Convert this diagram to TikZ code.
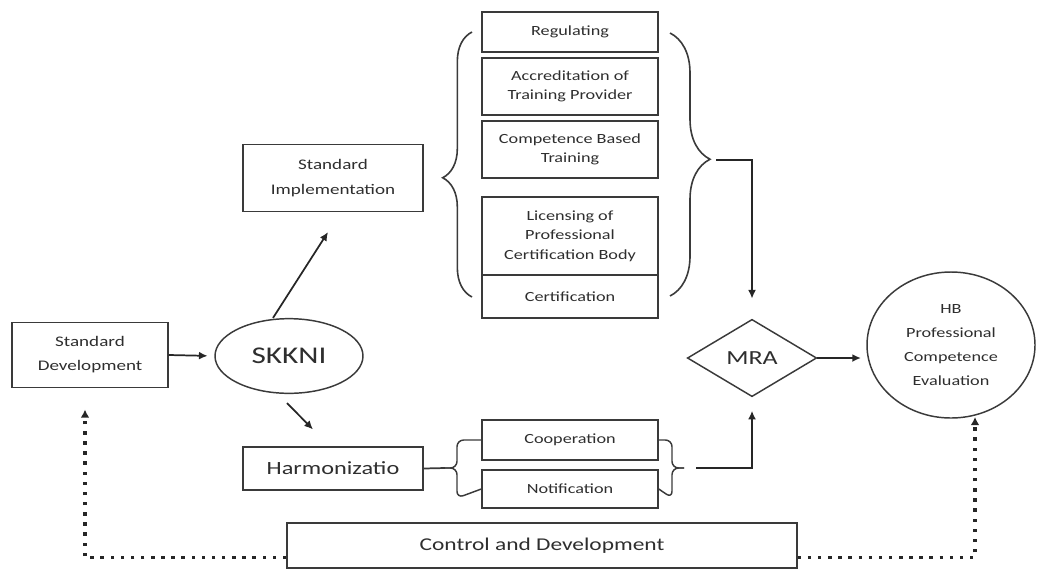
\documentclass[tikz,border=0pt]{standalone}
\usepackage{fontspec}
\setmainfont{Carlito}[FakeStretch=1.3]
\usetikzlibrary{shapes.geometric,arrows.meta,decorations.pathreplacing}
\definecolor{ink}{HTML}{3A3A3A}
\definecolor{txt}{HTML}{2E2E2E}
\tikzset{
  box/.style={draw=ink, line width=1.1pt, rectangle, inner sep=1pt, align=center, text=txt,
    font=\fontsize{10.5}{14.5}\selectfont},
  arr/.style={draw=black!85, line width=1.3pt, -{Latex[length=6.5pt,width=6pt]}},
  dotarr/.style={draw=black!85, line width=2.6pt, dash pattern=on 2.6pt off 5pt,
    -{Latex[length=6pt,width=6.5pt]}},
  bigbrace/.style={draw=ink, line width=1.2pt, decorate},
  sbrace/.style={draw=ink, line width=1.1pt, rounded corners=5pt},
}
\begin{document}
\begin{tikzpicture}[x=0.75pt,y=-0.75pt]
\useasboundingbox (0,0) rectangle (1037,572);
% left column
\node[box, minimum width=117pt, minimum height=48.75pt, font=\fontsize{11}{18}\selectfont] (sd) at (90,355) {Standard\\Development};
\node[draw=ink, line width=1.1pt, ellipse, inner sep=0pt, minimum width=111pt, minimum height=56pt, text=txt, font=\fontsize{18}{20}\selectfont] (skkni) at (289,356) {SKKNI};
\node[box, minimum width=135pt, minimum height=50pt, font=\fontsize{11}{18.5}\selectfont] (si) at (333,178) {Standard\\Implementation};
\node[box, minimum width=135pt, minimum height=32pt, font=\fontsize{14}{16}\selectfont] (harm) at (333,468.5) {Harmonizatio};
% stack
\node[box, minimum width=132pt, minimum height=30pt] (reg) at (570,32) {Regulating};
\node[box, minimum width=132pt, minimum height=42.75pt] (acc) at (570,86.5) {Accreditation of\\Training Provider};
\node[box, minimum width=132pt, minimum height=42.75pt] (cbt) at (570,149.5) {Competence Based\\Training};
\node[box, minimum width=132pt, minimum height=58.5pt] (lic) at (570,236) {Licensing of\\Professional\\Certification Body};
\node[box, minimum width=132pt, minimum height=32pt] (cert) at (570,296.5) {Certification};
% harmonization branches
\node[box, minimum width=132pt, minimum height=30pt] (coop) at (570,440) {Cooperation};
\node[box, minimum width=132pt, minimum height=28.5pt] (notif) at (570,489) {Notification};
% right
\node[draw=ink, line width=1.1pt, diamond, aspect=1.68, inner sep=0pt, minimum width=97pt, minimum height=58pt, text=txt, font=\fontsize{15}{17}\selectfont] (mra) at (752,358) {MRA};
\node[draw=ink, line width=1.1pt, ellipse, inner sep=0pt, minimum width=126pt, minimum height=109.5pt, align=center, text=txt, font=\fontsize{10.5}{18}\selectfont] (hb) at (951,345) {HB\\Professional\\Competence\\Evaluation};
% control
\node[box, minimum width=382.5pt, minimum height=33.5pt, font=\fontsize{13.5}{16}\selectfont] (ctrl) at (542,545.5) {Control and Development};

% braces
\coordinate (bl1) at (472,297);
\coordinate (bl2) at (472,32);
\draw[bigbrace, decoration={brace, amplitude=22pt, aspect=0.45}] (bl1) -- (bl2);
\coordinate (br1) at (670,33);
\coordinate (br2) at (670,296);
\draw[bigbrace, decoration={brace, amplitude=30pt, aspect=0.48}] (br1) -- (br2);
\coordinate (brt) at (712,160);

% small braces
\coordinate (slt) at (445,468);
\draw[sbrace] (coop.west) -- (457,440) -- (457,468) -- (slt);
\draw[sbrace] (notif.west) -- (457,498) -- (457,468) -- (slt);
\coordinate (srt) at (684,468);
\draw[sbrace] (coop.east) -- (672,440) -- (672,468) -- (srt);
\draw[sbrace] (notif.east) -- (672,498) -- (672,468) -- (srt);
\draw[draw=ink, line width=1.3pt] (harm.east) -- (slt);

% arrows
\draw[arr, shorten >=5pt] (sd.east) -- (skkni.west);
\draw[arr] ([shift={(-16,0)}]skkni.north) -- ([shift={(-5,20)}]si.south);
\draw[arr] ([shift={(-2,9)}]skkni.south) -- ([shift={(-20,-17)}]harm.north);
\draw[arr, shorten <=3pt, shorten >=15pt] (brt) -| (mra.north);
\draw[arr, shorten <=9pt, shorten >=10pt] (srt) -| (mra.south);
\draw[arr, shorten >=4pt] (mra.east) -- (mra.east -| hb.west);

% dotted feedback
\coordinate (hbb) at (975,417);
\draw[dotarr, shorten >=16pt] ([shift={(0,12)}]ctrl.west) -| ([shift={(-5,0)}]sd.south);
\draw[dotarr] ([shift={(0,12)}]ctrl.east) -| (hbb);
\end{tikzpicture}
\end{document}
